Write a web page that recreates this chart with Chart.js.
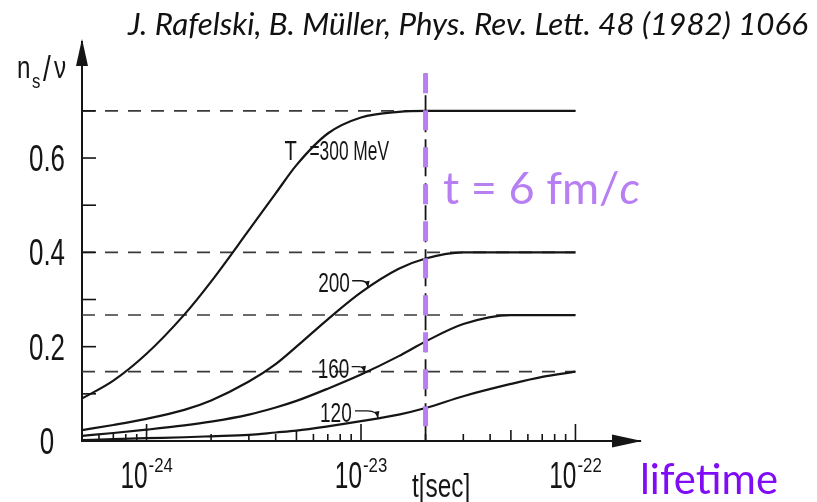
<!DOCTYPE html>
<html>
<head>
<meta charset="utf-8">
<script src="https://cdn.jsdelivr.net/npm/chart.js@4.4.1/dist/chart.umd.min.js"></script>
<style>
html, body { margin:0; padding:0; background:#fff; }
#wrap { position:relative; width:817px; height:502px; }
</style>
</head>
<body>
<div id="wrap"><canvas id="chart" width="817" height="502"></canvas></div>
<script>
// --------- DADOS ----------
const times  = [5e-25, 7e-25, 1e-24, 1.5e-24, 2e-24, 3e-24, 4e-24, 5e-24, 7e-24, 1e-23, 1.5e-23, 2e-23, 3e-23, 5e-23, 7e-23, 1e-22];
const ns300  = [0.090, 0.128, 0.185, 0.268, 0.338, 0.447, 0.525, 0.585, 0.652, 0.686, 0.698, 0.700, 0.700, 0.700, 0.700, 0.700];
const ns200  = [0.023, 0.034, 0.047, 0.066, 0.086, 0.126, 0.163, 0.200, 0.258, 0.315, 0.365, 0.387, 0.400, 0.400, 0.400, 0.400];
const ns160  = [0.011, 0.017, 0.024, 0.033, 0.041, 0.056, 0.071, 0.085, 0.111, 0.141, 0.180, 0.211, 0.248, 0.267, 0.267, 0.267];
const ns120  = [0.002, 0.004, 0.006, 0.008, 0.010, 0.013, 0.018, 0.022, 0.031, 0.042, 0.056, 0.070, 0.095, 0.121, 0.136, 0.147];
const temps  = ['300', '200', '160', '120'];
const limits = [0.700, 0.400, 0.267, 0.147];   // valores de equilíbrio (linhas tracejadas)
const tLife  = 2e-23;                          // 6 fm/c em segundos
const tLifeTop = 0.78;
const yTickLabels = ['0', '0.2', '0.4', '0.6'];
const xDecades  = [1e-24, 1e-23, 1e-22];
const xExponents = ['-24', '-23', '-22'];

// --------- ESTILO ----------
const ink = '#151515';
const lilac = '#b77ff2';
const violet = '#7f0cf4';
const cond = '"Liberation Sans", Arial, sans-serif';
const calib = 'Lato, "Open Sans", sans-serif';

// texto "condensado" (fonte da figura original é estreita)
function squeezeText(ctx, txt, x, y, size, sx, align, family, style, color){
    ctx.save();
    ctx.font = (style || '') + ' ' + size + 'px ' + (family || cond);
    ctx.fillStyle = color || ink;
    ctx.textAlign = align || 'left';
    ctx.textBaseline = 'alphabetic';
    ctx.translate(x, y);
    ctx.scale(sx, 1);
    ctx.fillText(txt, 0, 0);
    ctx.restore();
}
// ajusta o tamanho da fonte para uma largura alvo
function fitSize(ctx, parts, base, width){
    let w = 0;
    parts.forEach(p => { ctx.font = p.style + ' ' + base + 'px ' + p.family; w += ctx.measureText(p.text).width; });
    return base * width / w;
}
function drawParts(ctx, parts, x, y, size, color){
    ctx.save();
    ctx.fillStyle = color; ctx.textBaseline = 'alphabetic'; ctx.textAlign = 'left';
    parts.forEach(p => {
        ctx.font = p.style + ' ' + size + 'px ' + p.family;
        ctx.fillText(p.text, x, y);
        x += ctx.measureText(p.text).width;
    });
    ctx.restore();
}
function arrowHead(ctx, x0, y0, x1, y1, len){
    const a = Math.atan2(y1 - y0, x1 - x0);
    ctx.beginPath();
    ctx.moveTo(x1, y1);
    ctx.lineTo(x1 - len * Math.cos(a - 0.35), y1 - len * Math.sin(a - 0.35));
    ctx.lineTo(x1 - len * Math.cos(a + 0.35), y1 - len * Math.sin(a + 0.35));
    ctx.closePath();
    ctx.fill();
}

// rótulos das curvas: ponta da seta na curva (t, n), texto deslocado
const curveNotes = [
    { text: '200', t: 1.08e-23, n: 0.325, dx: -50, dy: 4,  ax: -16, ay: -7 },
    { text: '160', t: 1.04e-23, n: 0.145, dx: -47, dy: 5,  ax: -13, ay: -6 },
    { text: '120', t: 1.2e-23,  n: 0.049, dx: -58, dy: 4,  ax: -23, ay: -7 }
];

const decor = {
    id: 'decor',
    afterDatasetsDraw(chart){
        const ctx = chart.ctx;
        const xs = chart.scales.x, ys = chart.scales.y;
        const a = chart.chartArea;
        ctx.save();
        ctx.fillStyle = ink; ctx.strokeStyle = ink;

        // setas dos eixos
        ctx.beginPath();
        ctx.moveTo(a.left, a.top - 3); ctx.lineTo(a.left - 6, a.top + 24); ctx.lineTo(a.left + 6, a.top + 24);
        ctx.closePath(); ctx.fill();
        ctx.beginPath();
        ctx.moveTo(a.right + 2, a.bottom); ctx.lineTo(a.right - 28, a.bottom - 6.5); ctx.lineTo(a.right - 28, a.bottom + 6.5);
        ctx.closePath(); ctx.fill();

        // marcas do eixo y (para dentro)
        ctx.lineWidth = 1.6;
        ys.ticks.forEach(tk => {
            if (tk.value <= 0 || tk.value > 0.71) return;
            const py = ys.getPixelForValue(tk.value);
            ctx.beginPath(); ctx.moveTo(a.left, py); ctx.lineTo(a.left + 14, py); ctx.stroke();
        });
        // marcas do eixo x (log, para cima): 1..9 x 10^e até 1e-22
        const eMin = Math.floor(Math.log10(xs.min) + 1e-9);
        const eMax = Math.round(Math.log10(xDecades[xDecades.length - 1]));
        for (let e = eMin; e <= eMax; e++) {
            for (let m = 1; m <= 9; m++) {
                if (e === eMax && m > 1) break;
                const v = m * Math.pow(10, e);
                if (v < xs.min * 0.999) continue;
                const len = m === 1 ? 17 : (m === 5 ? 11 : 7);
                const px = xs.getPixelForValue(v);
                ctx.beginPath(); ctx.moveTo(px, a.bottom); ctx.lineTo(px, a.bottom - len); ctx.stroke();
            }
        }

        // rótulos do eixo y
        yTickLabels.forEach(lb => {
            const py = ys.getPixelForValue(parseFloat(lb));
            squeezeText(ctx, lb, 47, py + 13, 37, 0.7, 'center');
        });
        // rótulos do eixo x: 10^n
        xDecades.forEach((d, i) => {
            const px = xs.getPixelForValue(d);
            squeezeText(ctx, '10', px + 1, a.bottom + 47, 37, 0.66, 'right');
            squeezeText(ctx, xExponents[i], px + 2, a.bottom + 31, 21, 0.8, 'left');
        });

        // títulos dos eixos
        squeezeText(ctx, 'n', 17, 78, 31, 0.78, 'left');
        squeezeText(ctx, 's', 32, 88, 21, 0.8, 'left');
        squeezeText(ctx, '/', 43, 81, 35, 0.8, 'left');
        squeezeText(ctx, 'ν', 54, 78, 31, 0.78, 'left');
        squeezeText(ctx, 't[sec]', 412, 497, 33, 0.74, 'left');

        // rótulo T = 300 MeV
        const px3 = xs.getPixelForValue(5e-24), py3 = ys.getPixelForValue(0.59);
        squeezeText(ctx, 'T', px3 - 12, py3 - 3, 28, 0.72, 'left');
        squeezeText(ctx, '=300 MeV', px3 + 13, py3 - 3, 28, 0.62, 'left');

        // rótulos 200, 160, 120 com setas
        ctx.lineWidth = 1.4;
        curveNotes.forEach(nt => {
            const tx = xs.getPixelForValue(nt.t), ty = ys.getPixelForValue(nt.n);
            squeezeText(ctx, nt.text, tx + nt.dx, ty + nt.dy, 28, 0.68, 'left');
            const sx = tx + nt.ax, sy = ty + nt.ay;
            const mx = sx + (tx - sx) * 0.55;
            ctx.beginPath();
            ctx.moveTo(sx, sy);
            ctx.lineTo(mx, sy);
            ctx.quadraticCurveTo(tx - 1, sy, tx, ty);
            ctx.stroke();
            arrowHead(ctx, tx - 1, sy, tx, ty, 7);
        });

        // anotações em roxo
        const tParts = [
            { text: 't = 6 fm/', style: '', family: calib },
            { text: 'c', style: 'italic', family: calib }
        ];
        const tSize = fitSize(ctx, tParts, 40, 197);
        drawParts(ctx, tParts, 443, 204, tSize, lilac);

        const lParts = [{ text: 'lifetime', style: '', family: calib }];
        drawParts(ctx, lParts, 640, 494, fitSize(ctx, lParts, 40, 138), violet);

        const title = [{ text: 'J. Rafelski, B. Müller, Phys. Rev. Lett. 48 (1982) 1066', style: 'italic', family: calib }];
        drawParts(ctx, title, 128, 35, fitSize(ctx, title, 24, 680), '#111');

        ctx.restore();
    }
};

// --------- DATASETS ----------
const xy = (vals) => times.map((t, j) => ({ x: t, y: vals[j] }));
const datasets = [];
// linha roxa t = 6 fm/c (por cima)
datasets.push({
    data: [{ x: tLife, y: tLifeTop }, { x: tLife, y: 0 }],
    borderColor: lilac, borderWidth: 5, borderDash: [20, 17], pointRadius: 0
});
datasets.push({
    data: [{ x: tLife, y: tLifeTop }, { x: tLife, y: 0 }],
    borderColor: ink, borderWidth: 1.8, borderDash: [15, 7], pointRadius: 0
});
[ns300, ns200, ns160, ns120].forEach((vals, i) => {
    datasets.push({
        label: 'T = ' + temps[i] + ' MeV',
        data: xy(vals),
        borderColor: ink, borderWidth: 2.2, pointRadius: 0,
        cubicInterpolationMode: 'monotone'
    });
});
limits.forEach(v => {
    datasets.push({
        data: [{ x: times[0], y: v }, { x: times[times.length - 1], y: v }],
        borderColor: '#3a3a3a', borderWidth: 1.6, borderDash: [13, 10], pointRadius: 0
    });
});

const chart = new Chart(document.getElementById('chart').getContext('2d'), {
    type: 'line',
    data: { datasets },
    options: {
        responsive: false,
        animation: false,
        layout: { padding: { top: 42, right: 177, left: 0, bottom: 0 } },
        plugins: { legend: { display: false }, title: { display: false }, tooltip: { enabled: false } },
        scales: {
            x: {
                type: 'logarithmic', min: 5e-25, max: 2e-22,
                grid: { display: false, drawTicks: false },
                border: { display: true, color: ink, width: 2 },
                ticks: { display: false },
                afterFit: s => { s.height = 61; }
            },
            y: {
                min: 0, max: 0.846,
                grid: { display: false, drawTicks: false },
                border: { display: true, color: ink, width: 2 },
                ticks: { display: false, stepSize: 0.1 },
                afterFit: s => { s.width = 82; }
            }
        }
    },
    plugins: [decor]
});
</script>
</body>
</html>
